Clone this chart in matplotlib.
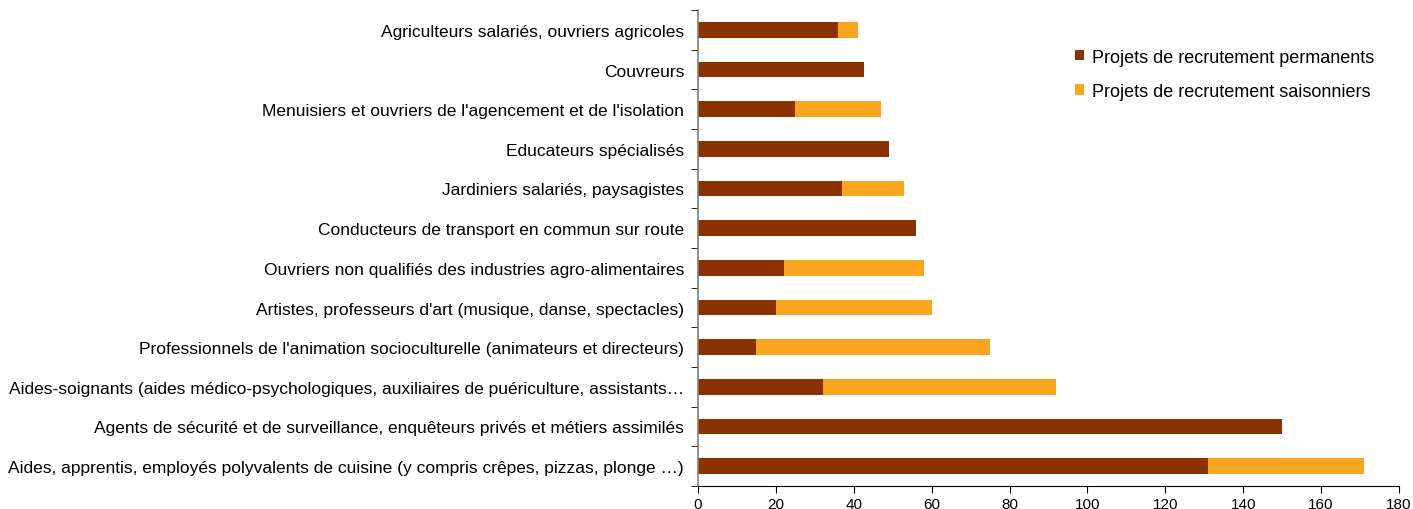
import numpy as np
import matplotlib.pyplot as plt
from matplotlib.ticker import FixedLocator, NullFormatter

plt.rcParams['font.family'] = ['Liberation Sans', 'DejaVu Sans']

metiers = [
    "Aides, apprentis, employés polyvalents de cuisine (y compris crêpes, pizzas, plonge …)",
    "Agents de sécurité et de surveillance, enquêteurs privés et métiers assimilés",
    "Aides-soignants (aides médico-psychologiques, auxiliaires de puériculture, assistants…",
    "Professionnels de l'animation socioculturelle (animateurs et directeurs)",
    "Artistes, professeurs d'art (musique, danse, spectacles)",
    "Ouvriers non qualifiés des industries agro-alimentaires",
    "Conducteurs de transport en commun sur route",
    "Jardiniers salariés, paysagistes",
    "Educateurs spécialisés",
    "Menuisiers et ouvriers de l'agencement et de l'isolation",
    "Couvreurs",
    "Agriculteurs salariés, ouvriers agricoles",
]
permanents = [131, 150, 32, 15, 20, 22, 56, 37, 49, 25, 42.5, 36]
saisonniers = [40, 0, 60, 60, 40, 36, 0, 16, 0, 22, 0, 5]

fig = plt.figure(figsize=(14.13, 5.10), dpi=100)
ax = fig.add_axes([698 / 1413, 23 / 510, 701 / 1413, 476 / 510])

y = np.arange(len(metiers))
ax.barh(y, permanents, height=0.4, color='#8B3300', label='Projets de recrutement permanents')
ax.barh(y, saisonniers, left=permanents, height=0.4, color='#F9A61E',
        label='Projets de recrutement saisonniers')

ax.set_ylim(-0.5, len(metiers) - 0.5)
ax.set_xlim(0, 180)
ax.set_xticks(np.arange(0, 181, 20))
ax.set_yticks(y)
ax.set_yticklabels(metiers, fontsize=12.5)
ax.tick_params(axis='y', length=0, pad=10)
ax.yaxis.set_minor_locator(FixedLocator(np.arange(-0.5, len(metiers), 1)))
ax.yaxis.set_minor_formatter(NullFormatter())
ax.tick_params(axis='y', which='minor', length=5, color='black')
ax.tick_params(axis='x', length=5, labelsize=11, color='black', pad=3)

for s in ['top', 'right']:
    ax.spines[s].set_visible(False)
ax.spines['left'].set_color('#808080')
ax.spines['left'].set_linewidth(1.2)
ax.spines['bottom'].set_color('black')

ax.legend(loc='upper left', bbox_to_anchor=(0.515, 0.953), frameon=False, fontsize=13,
          handlelength=0.5, handleheight=0.5, handletextpad=0.4, labelspacing=0.95)

fig.savefig('out.png', dpi=100)
